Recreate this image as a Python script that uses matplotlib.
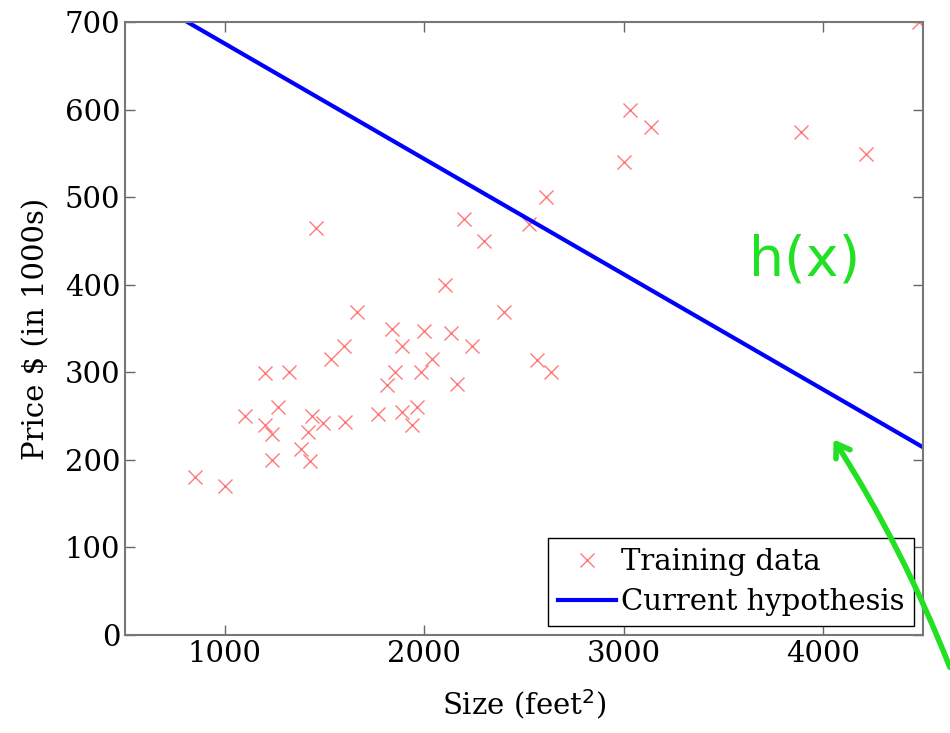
import matplotlib.pyplot as plt
import numpy as np

# Training data (size in feet^2, price in $1000s)
size_sqft = [2104, 1600, 2400, 1416, 3000, 1985, 1534, 1427, 1380, 1494,
             1940, 2000, 1890, 4478, 1268, 2300, 1320, 1236, 2609, 3031,
             1767, 1888, 1604, 1962, 3890, 1100, 1458, 2526, 2200, 2637,
             1839, 1000, 2040, 3137, 1811, 1437, 1239, 2132, 4215, 2162,
             1664, 2238, 2567, 1200, 852, 1852, 1203]
price_k = [399.9, 329.9, 369.0, 232.0, 539.9, 299.9, 314.9, 199.0, 212.0, 242.5,
           240.0, 347.0, 330.0, 699.9, 259.9, 449.9, 299.9, 199.9, 500.0, 599.0,
           252.9, 255.0, 242.9, 259.9, 573.9, 249.9, 464.5, 469.0, 475.0, 299.9,
           349.9, 169.9, 314.9, 579.9, 285.9, 249.9, 229.9, 345.0, 549.0, 287.0,
           368.5, 329.9, 314.0, 299.0, 179.9, 299.9, 239.5]

# current hypothesis h(x) = theta0 + theta1 * x
theta0 = 807.0
theta1 = -0.1317

plt.rcParams['font.family'] = ['DejaVu Serif']

fig = plt.figure(figsize=(9.5, 7.33), dpi=100)
ax = fig.add_axes([0.1316, 0.1337, 0.84, 0.8363])

ax.plot(size_sqft, price_k, 'x', color='#ff7a7a', markersize=10, mew=1.0,
        label='Training data')
xs = np.array([500, 4500])
ax.plot(xs, theta0 + theta1 * xs, color='#0000ff', linewidth=3,
        label='Current hypothesis')

ax.set_xlim(500, 4500)
ax.set_ylim(0, 700)
ax.set_xticks([1000, 2000, 3000, 4000])
ax.set_yticks(range(0, 701, 100))
ax.tick_params(direction='in', length=7, width=1, colors='#666666',
               labelcolor='black', labelsize=21, top=True, right=True)
for sp in ax.spines.values():
    sp.set_color('#777777')
    sp.set_linewidth(1.5)

ax.set_xlabel('Size (feet$^2$)', fontsize=21, labelpad=14)
ax.set_ylabel('Price $ (in 1000s)', fontsize=21, labelpad=10)

leg = ax.legend(loc='lower right', fontsize=21, frameon=True, fancybox=False,
                edgecolor='black', framealpha=1.0, borderpad=0.35,
                handlelength=2.0, handletextpad=0.15, labelspacing=0.4,
                borderaxespad=0.3)
leg.get_frame().set_linewidth(1.0)

# handwritten annotation
ax.text(3909, 428, 'h(x)', color='#22e022', fontsize=40, ha='center',
        va='center', family='DejaVu Sans', clip_on=False, zorder=10)
ax.annotate('', xy=(4044, 226), xytext=(4640, -40),
            arrowprops=dict(arrowstyle='->,head_length=0.9,head_width=0.6',
                            color='#22e022', lw=4,
                            connectionstyle='arc3,rad=0.05'),
            annotation_clip=False, zorder=10)

fig.savefig('out.png', dpi=100)
